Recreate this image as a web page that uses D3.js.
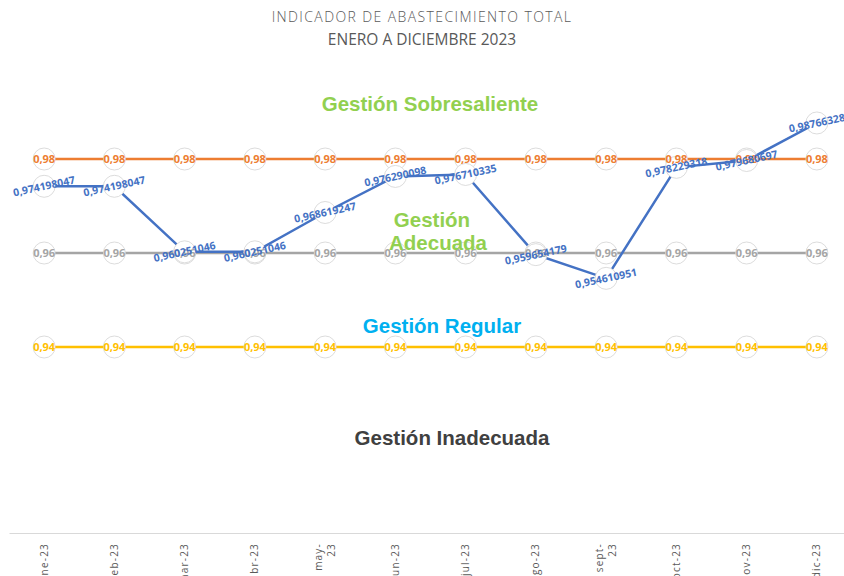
<!DOCTYPE html>
<html>
<head>
<meta charset="utf-8">
<script src="https://cdn.jsdelivr.net/npm/d3@7"></script>
<style>
  body { margin: 0; background: #fff; }
  svg { display: block; }
</style>
</head>
<body>
<div id="chart"></div>
<script>
// data
var months = ["ene-23", "feb-23", "mar-23", "abr-23", "may-23", "jun-23",
              "jul-23", "ago-23", "sept-23", "oct-23", "nov-23", "dic-23"];
var indicador = [0.974198047, 0.974198047, 0.960251046, 0.960251046, 0.968619247, 0.976290098,
                 0.976710335, 0.959654179, 0.954610951, 0.978229318, 0.979680697, 0.98766328];
var sobresaliente = [0.98, 0.98, 0.98, 0.98, 0.98, 0.98, 0.98, 0.98, 0.98, 0.98, 0.98, 0.98];
var adecuada = [0.96, 0.96, 0.96, 0.96, 0.96, 0.96, 0.96, 0.96, 0.96, 0.96, 0.96, 0.96];
var regular = [0.94, 0.94, 0.94, 0.94, 0.94, 0.94, 0.94, 0.94, 0.94, 0.94, 0.94, 0.94];

var width = 844, height = 576;

var svg = d3.select("#chart")
    .append("svg")
    .attr("width", width)
    .attr("height", height);

var x = d3.scaleBand().domain(months).range([9, 852]).padding(0);
var y = d3.scaleLinear().domain([0.90, 1.00]).range([535, 65]);
var cx = function (m) { return x(m) + x.bandwidth() / 2; };

// title
svg.append("text")
    .attr("x", 422).attr("y", 22)
    .attr("text-anchor", "middle")
    .style("font-family", "Open Sans")
    .style("font-size", "14px")
    .style("font-weight", 300)
    .style("letter-spacing", "1.4px")
    .style("fill", "#595959")
    .text("INDICADOR DE ABASTECIMIENTO TOTAL");
svg.append("text")
    .attr("x", 422).attr("y", 45)
    .attr("text-anchor", "middle")
    .style("font-family", "Open Sans")
    .style("font-size", "15.5px")
    .style("fill", "#595959")
    .text("ENERO A DICIEMBRE 2023");

// x axis
var xAxis = svg.append("g")
    .attr("transform", "translate(0," + (y(0.90) - 2) + ")")
    .call(d3.axisBottom(x).tickSize(0).tickFormat(""));
xAxis.select(".domain").attr("stroke", "#d9d9d9").attr("stroke-width", 1);

var xl = svg.append("g").selectAll("text")
    .data(months)
    .enter()
    .append("text")
    .attr("transform", function (d) { return "translate(" + cx(d) + "," + (y(0.90) + 8) + ") rotate(-90)"; })
    .attr("text-anchor", "end")
    .style("font-family", "Open Sans")
    .style("font-size", "10px")
    .style("letter-spacing", "1.2px")
    .style("fill", "#595959");
xl.each(function (d) {
    var t = d3.select(this);
    if (d === "may-23" || d === "sept-23") {
        var parts = d.split("-");
        t.append("tspan").attr("x", 0).attr("dy", "-0.35em").text(parts[0] + "-");
        t.append("tspan").attr("x", 0).attr("dy", "1.35em").text(parts[1]);
    } else {
        t.append("tspan").attr("x", 0).attr("dy", "0.35em").text(d);
    }
});

var series = [
    { name: "sobresaliente", values: sobresaliente, color: "#ED7D31" },
    { name: "adecuada", values: adecuada, color: "#A5A5A5" },
    { name: "regular", values: regular, color: "#FFC000" },
    { name: "indicador", values: indicador, color: "#4472C4" }
];

var line = d3.line()
    .x(function (d) { return cx(d.m); })
    .y(function (d) { return y(d.v); });

series.forEach(function (s) {
    s.points = s.values.map(function (v, i) { return { m: months[i], v: v }; });
});

// lines
svg.append("g").selectAll("path")
    .data(series)
    .enter()
    .append("path")
    .attr("d", function (s) { return line(s.points); })
    .attr("fill", "none")
    .attr("stroke", function (s) { return s.color; })
    .attr("stroke-width", 2.5);

// markers
series.forEach(function (s) {
    svg.append("g").selectAll("circle")
        .data(s.points)
        .enter()
        .append("circle")
        .attr("cx", function (d) { return cx(d.m); })
        .attr("cy", function (d) { return y(d.v); })
        .attr("r", 11)
        .attr("fill", "#fff")
        .attr("stroke", "#d0d0d0")
        .attr("stroke-width", 0.75);
});

// labels
var fmt = function (v) { return String(v).replace(".", ","); };
series.forEach(function (s) {
    var blue = s.name === "indicador";
    svg.append("g").selectAll("text")
        .data(s.points)
        .enter()
        .append("text")
        .attr("transform", function (d) {
            return "translate(" + cx(d.m) + "," + y(d.v) + ")" + (blue ? " rotate(-12)" : "");
        })
        .attr("text-anchor", "middle")
        .attr("dy", "0.35em")
        .style("font-family", "Open Sans")
        .style("font-weight", "bold")
        .style("font-size", blue ? "10.5px" : "11px")
        .style("fill", s.color)
        .text(function (d) { return fmt(d.v); });
});

// annotations
function note(txt, px, py, color) {
    svg.append("text")
        .attr("x", px).attr("y", py)
        .attr("text-anchor", "middle")
        .style("font-family", "Liberation Sans")
        .style("font-weight", "bold")
        .style("font-size", "20.5px")
        .style("fill", color)
        .text(txt);
}
note("Gestión Sobresaliente", 430, 111, "#92D050");
note("Gestión", 432, 227, "#92D050");
note("Adecuada", 438, 250, "#92D050");
note("Gestión Regular", 442, 333, "#00B0F0");
note("Gestión Inadecuada", 452, 445, "#404040");
</script>
</body>
</html>
